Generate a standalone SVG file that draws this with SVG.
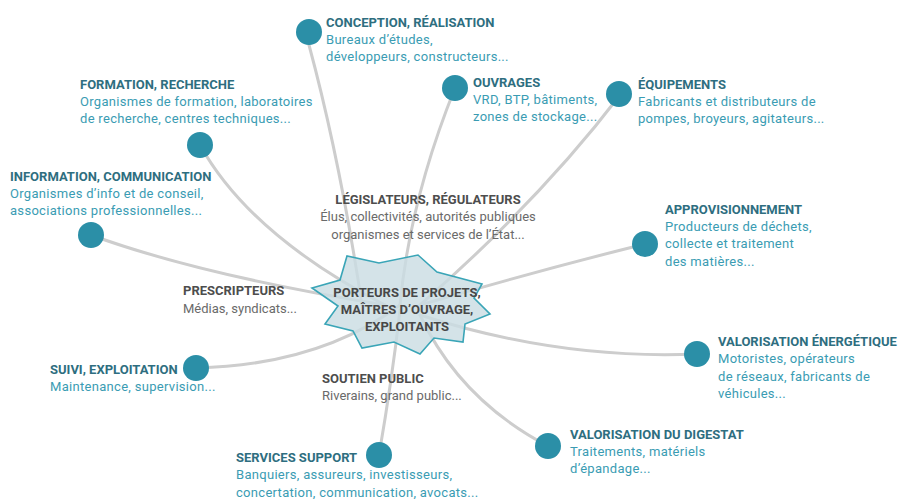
<svg xmlns="http://www.w3.org/2000/svg" width="904" height="499" viewBox="0 0 904 499">
<style>
.bg{fill:#ffffff}
.con{fill:none;stroke:#cdcdcd;stroke-width:3;stroke-linecap:round}
.dot{fill:#2b8fa7}
.t{font-family:Roboto,"Liberation Sans",sans-serif;font-size:13px;font-weight:bold;fill:#2e6e80}
.s{font-family:Roboto,"Liberation Sans",sans-serif;font-size:13px;letter-spacing:0.3px;fill:#3a9cb3}
.gt{font-family:Roboto,"Liberation Sans",sans-serif;font-size:13px;font-weight:bold;fill:#4d4d4d}
.gs{font-family:Roboto,"Liberation Sans",sans-serif;font-size:13px;fill:#6a6a6a}
.star{fill:#cadde3;fill-opacity:0.82;stroke:#3aa5b7;stroke-width:1.6;stroke-linejoin:miter}
.st{font-family:Roboto,"Liberation Sans",sans-serif;font-size:13px;font-weight:bold;fill:#474747;text-anchor:middle}
</style>
<rect class="bg" x="0" y="0" width="904" height="499"/>
<g id="connectors">
<path class="con" d="M309,45 Q340,160 362,305"/>
<path class="con" d="M200,145 Q250,235 385,305"/>
<path class="con" d="M91,235 Q200,275 385,305"/>
<path class="con" d="M455,88 Q410,200 400,305"/>
<path class="con" d="M620,95 Q540,200 420,305"/>
<path class="con" d="M645,244 Q540,270 420,305"/>
<path class="con" d="M697,354 Q560,360 420,315"/>
<path class="con" d="M548,446 Q460,400 420,315"/>
<path class="con" d="M379,455 Q392,380 400,310"/>
<path class="con" d="M196,368 Q320,365 400,305"/>
</g>
<g id="center">
<polygon class="star" points="312,288 340,280 347,256 379,263 418,255 437,272 482,284 474,298 490,314 465,324 463,342 434,338 420,354 394,342 362,348 353,331 325,324 338,306"/>
<text class="st" x="407" y="297">PORTEURS DE PROJETS,</text>
<text class="st" x="407" y="314">MAÎTRES D’OUVRAGE,</text>
<text class="st" x="407" y="331">EXPLOITANTS</text>
</g>
<g id="conception">
<circle class="dot" cx="309" cy="32" r="13"/>
<text class="t" x="326" y="27">CONCEPTION, RÉALISATION</text>
<text class="s" x="326" y="44">Bureaux d’études,</text>
<text class="s" x="326" y="61">développeurs, constructeurs...</text>
</g>
<g id="formation">
<circle class="dot" cx="200" cy="145" r="13"/>
<text class="t" x="80" y="89">FORMATION, RECHERCHE</text>
<text class="s" x="80" y="106">Organismes de formation, laboratoires</text>
<text class="s" x="80" y="123">de recherche, centres techniques...</text>
</g>
<g id="information">
<circle class="dot" cx="91" cy="235" r="13"/>
<text class="t" x="10" y="181">INFORMATION, COMMUNICATION</text>
<text class="s" x="10" y="198">Organismes d’info et de conseil,</text>
<text class="s" x="10" y="215">associations professionnelles...</text>
</g>
<g id="ouvrages">
<circle class="dot" cx="455" cy="88" r="13"/>
<text class="t" x="473" y="87">OUVRAGES</text>
<text class="s" x="473" y="104">VRD, BTP, bâtiments,</text>
<text class="s" x="473" y="121">zones de stockage...</text>
</g>
<g id="equipements">
<circle class="dot" cx="619" cy="94" r="13"/>
<text class="t" x="638" y="89">ÉQUIPEMENTS</text>
<text class="s" x="638" y="106">Fabricants et distributeurs de</text>
<text class="s" x="638" y="123">pompes, broyeurs, agitateurs...</text>
</g>
<g id="approvisionnement">
<circle class="dot" cx="645" cy="244" r="13"/>
<text class="t" x="665" y="214">APPROVISIONNEMENT</text>
<text class="s" x="665" y="231">Producteurs de déchets,</text>
<text class="s" x="665" y="248">collecte et traitement</text>
<text class="s" x="665" y="266">des matières...</text>
</g>
<g id="valorisation-energetique">
<circle class="dot" cx="697" cy="354" r="13"/>
<text class="t" x="718" y="346">VALORISATION ÉNERGÉTIQUE</text>
<text class="s" x="718" y="363">Motoristes, opérateurs</text>
<text class="s" x="718" y="381">de réseaux, fabricants de</text>
<text class="s" x="718" y="398">véhicules...</text>
</g>
<g id="valorisation-digestat">
<circle class="dot" cx="548" cy="446" r="13"/>
<text class="t" x="570" y="439">VALORISATION DU DIGESTAT</text>
<text class="s" x="570" y="456">Traitements, matériels</text>
<text class="s" x="570" y="473">d’épandage...</text>
</g>
<g id="services-support">
<circle class="dot" cx="379" cy="455" r="13"/>
<text class="t" x="236" y="462">SERVICES SUPPORT</text>
<text class="s" x="236" y="479">Banquiers, assureurs, investisseurs,</text>
<text class="s" x="236" y="497">concertation, communication, avocats...</text>
</g>
<g id="suivi">
<circle class="dot" cx="196" cy="368" r="13"/>
<text class="t" x="50" y="374">SUIVI, EXPLOITATION</text>
<text class="s" x="50" y="391">Maintenance, supervision...</text>
</g>
<g id="legislateurs">
<text class="gt" x="428" y="204" text-anchor="middle">LÉGISLATEURS, RÉGULATEURS</text>
<text class="gs" x="428" y="221" text-anchor="middle">Élus, collectivités, autorités publiques</text>
<text class="gs" x="428" y="239" text-anchor="middle">organismes et services de l’État...</text>
</g>
<g id="prescripteurs">
<text class="gt" x="183" y="295">PRESCRIPTEURS</text>
<text class="gs" x="183" y="313">Médias, syndicats...</text>
</g>
<g id="soutien-public">
<text class="gt" x="322" y="383">SOUTIEN PUBLIC</text>
<text class="gs" x="322" y="400">Riverains, grand public...</text>
</g>
</svg>
